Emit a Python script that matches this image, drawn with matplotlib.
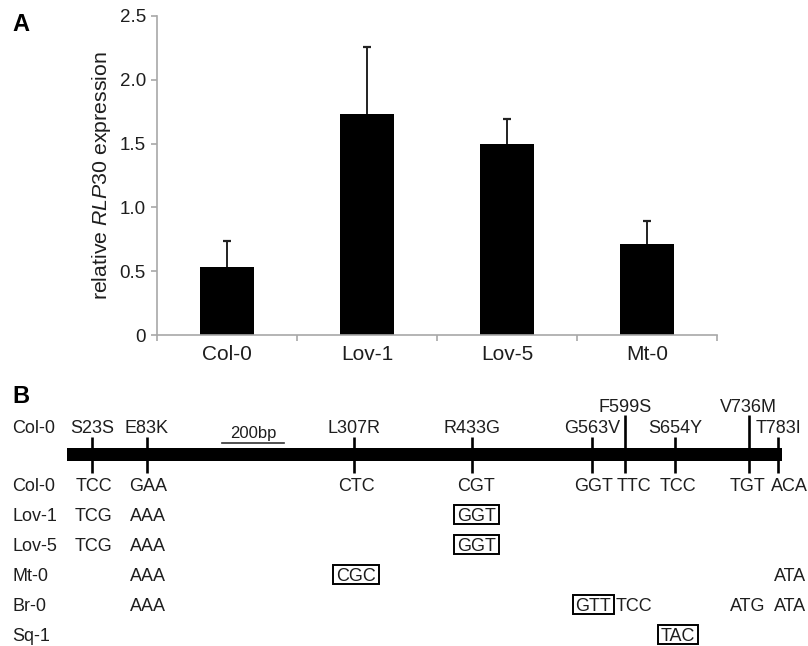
import matplotlib
matplotlib.use("Agg")
import matplotlib.pyplot as plt
from matplotlib.patches import Rectangle

plt.rcParams["font.family"] = ["Liberation Sans", "DejaVu Sans"]
plt.rcParams["mathtext.fontset"] = "custom"
plt.rcParams["mathtext.rm"] = "Liberation Sans"
plt.rcParams["mathtext.it"] = "Liberation Sans:italic"

# panel A data
lines = ["Col-0", "Lov-1", "Lov-5", "Mt-0"]
expression = [0.53, 1.73, 1.50, 0.71]
err = [0.21, 0.53, 0.19, 0.18]

# panel B data (positions in aa along the drawn gene)
gene_len = 769
sites = ["S23S", "E83K", "L307R", "R433G", "G563V", "F599S", "S654Y", "V736M", "T783I"]
site_pos = [27, 86, 309, 435, 565, 600, 654, 733, 765]
tall_sites = ["F599S", "V736M"]
accessions = ["Col-0", "Lov-1", "Lov-5", "Mt-0", "Br-0", "Sq-1"]
codons = {
    "Col-0": ["TCC", "GAA", "CTC", "CGT", "GGT", "TTC", "TCC", "TGT", "ACA"],
    "Lov-1": ["TCG", "AAA", "", "GGT", "", "", "", "", ""],
    "Lov-5": ["TCG", "AAA", "", "GGT", "", "", "", "", ""],
    "Mt-0": ["", "AAA", "CGC", "", "", "", "", "", "ATA"],
    "Br-0": ["", "AAA", "", "", "GTT", "TCC", "", "ATG", "ATA"],
    "Sq-1": ["", "", "", "", "", "", "TAC", "", ""],
}
boxed = [("Lov-1", "R433G"), ("Lov-5", "R433G"), ("Mt-0", "L307R"),
         ("Br-0", "G563V"), ("Sq-1", "S654Y")]
scale_start, scale_bp = 167, 200

TXT = "#1e1e1e"
AX_GRAY = "#a8a8a8"

fig = plt.figure(figsize=(8.08, 6.46), dpi=100)

# ---------- panel A ----------
W, H = 808, 646
ax = fig.add_axes([157 / W, (H - 335) / H, 560 / W, 319 / H])
x = range(len(lines))
# symmetric bars drawn under the columns, so only the upper half shows
ax.errorbar(x, expression, yerr=err, fmt="none", ecolor="#222222",
            elinewidth=1.4, capsize=3.2, capthick=1.6, zorder=1)
ax.bar(x, expression, width=0.39, color="black", zorder=2)
ax.set_xlim(-0.5, 3.5)
ax.set_ylim(0, 2.5)
ax.set_yticks([0, 0.5, 1.0, 1.5, 2.0, 2.5])
ax.set_yticklabels(["0", "0.5", "1.0", "1.5", "2.0", "2.5"])
ax.set_xticks([-0.5, 0.5, 1.5, 2.5, 3.5])
ax.set_xticklabels([])
ax.set_xticks(list(x), minor=True)
ax.set_xticklabels(lines, minor=True, fontsize=15, color=TXT)
ax.tick_params(axis="x", which="minor", length=0, pad=7)
ax.tick_params(axis="x", which="major", length=4, color=AX_GRAY, width=1.2)
ax.tick_params(axis="y", length=4, color=AX_GRAY, width=1.2, labelsize=13.5,
               labelcolor=TXT, pad=4)
for s in ["top", "right"]:
    ax.spines[s].set_visible(False)
for s in ["left", "bottom"]:
    ax.spines[s].set_color(AX_GRAY)
    ax.spines[s].set_linewidth(1.2)
ax.set_ylabel(r"relative $\it{RLP30}$ expression", fontsize=15.3, color=TXT, labelpad=5)
fig.text(12 / W, 1 - 31 / H, "A", fontsize=17, fontweight="bold", color="black")

# ---------- panel B ----------
bx = fig.add_axes([0, 0, 1, 266 / H])
bx.set_xlim(-67 / 0.93, (W - 67) / 0.93)
bx.set_ylim((H - 455) / 30, (380 - 455) / 30)
bx.axis("off")
fig.text(12 / W, 1 - 403 / H, "B", fontsize=17, fontweight="bold", color="black")

bx.add_patch(Rectangle((0, -0.217), gene_len, 0.433, color="black", lw=0))

nudge = [2, 1, 2, 5, 1, 10, 3, -1, 12]
fs = 13
for name, p in zip(sites, site_pos):
    top = -1.33 if name in tall_sites else -0.6
    bx.plot([p, p], [top, 0.6], color="black", lw=1.9, solid_capstyle="butt")
    ly = -1.43 if name in tall_sites else -0.73
    bx.text(p, ly, name, ha="center", va="baseline", fontsize=fs, color=TXT)

bx.text(-59, -0.73, "Col-0", ha="left", va="baseline", fontsize=fs, color=TXT)

# scale bar
bx.plot([scale_start, scale_start + scale_bp / 3], [-0.4, -0.4], color="#333333", lw=1.2)
bx.text(scale_start + scale_bp / 6, -0.57, f"{scale_bp}bp", ha="center", va="baseline",
        fontsize=12, color=TXT)

box_texts = []
for r, acc in enumerate(accessions):
    y = 1.2 + r
    bx.text(-59, y, acc, ha="left", va="baseline", fontsize=fs, color=TXT)
    for k, c in enumerate(codons[acc]):
        if not c:
            continue
        t = bx.text(site_pos[k] + nudge[k], y, c, ha="center", va="baseline",
                    fontsize=fs, color=TXT)
        if (acc, sites[k]) in boxed:
            box_texts.append((t, y))

# boxes hugging the codon: a little room at the sides, tight at the baseline
fig.canvas.draw()
inv = fig.transFigure.inverted()
for t, y in box_texts:
    ext = t.get_window_extent()
    base = bx.transData.transform((0, y))[1]
    (x0, y0) = inv.transform((ext.x0 - 3, base - 2.5))
    (x1, y1) = inv.transform((ext.x1 + 3, base + 16.5))
    fig.patches.append(Rectangle((x0, y0), x1 - x0, y1 - y0, transform=fig.transFigure,
                                 fill=False, ec="black", lw=1.4, figure=fig))

fig.savefig("out.png", dpi=100)
